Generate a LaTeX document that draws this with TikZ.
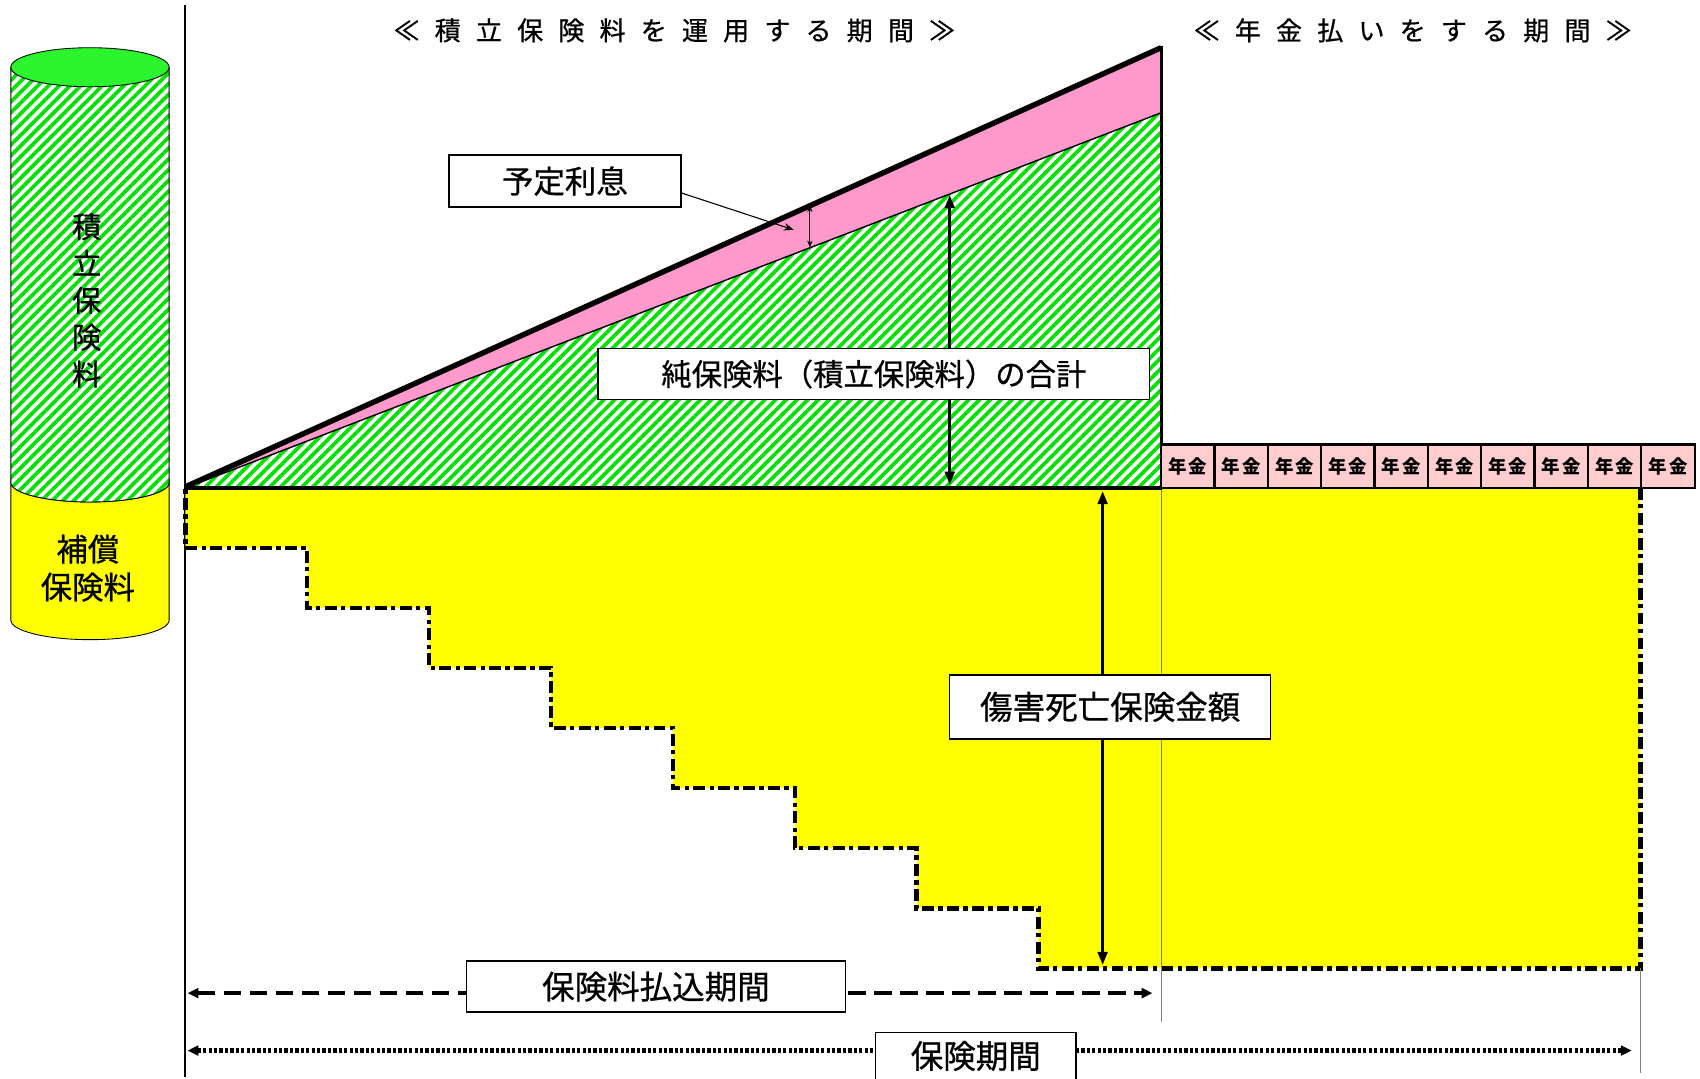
\documentclass[tikz,border=0pt]{standalone}
\usepackage{fontspec}
\setmainfont{Noto Sans CJK JP}
\newfontfamily\lblfont[FakeBold=0.7]{Noto Sans CJK JP}
\usetikzlibrary{arrows.meta,patterns.meta}
\definecolor{hatchgreen}{RGB}{0,225,0}
\definecolor{topgreen}{RGB}{45,245,45}
\definecolor{pinkfill}{RGB}{255,153,204}
\definecolor{nenkin}{RGB}{255,205,205}
\definecolor{yel}{RGB}{255,255,0}
\newcommand{\tsp}{\hspace{14pt}}
\begin{document}
\begin{tikzpicture}[x=1pt,y=-1pt,
  hatch/.style={preaction={fill=white},pattern={Lines[angle=45,distance=7pt,line width=3.4pt]},pattern color=hatchgreen},
  labelbox/.style={draw=black,line width=1.2pt,fill=white,inner sep=0pt,font=\lblfont\fontsize{29}{29}\selectfont},
  nenkinbox/.style={draw=black,line width=2pt,fill=nenkin,inner sep=0pt,minimum width=49.2pt,minimum height=40pt,font=\fontsize{17}{17}\selectfont\bfseries},
  titletext/.style={font=\lblfont\fontsize{24}{24}\selectfont,inner sep=0pt},
  bigarrow/.style={line width=2.5pt,{Triangle[length=12pt,width=9pt]}-{Triangle[length=12pt,width=9pt]}},
  stairline/.style={line width=4pt,dash pattern=on 11pt off 4pt on 4pt off 4pt},
  guide/.style={draw=gray,line width=1pt}
]
\path[use as bounding box] (0,0) rectangle (1568,995);

% axis
\coordinate (axT) at (171,5);
\coordinate (axB) at (171,993);
\draw[line width=2pt] (axT) -- (axB);

% cylinder
\fill[yel,draw=black,line width=0.8pt] (10,445) -- (10,572) arc[start angle=180,end angle=0,x radius=73,y radius=18] -- (156,445) arc[start angle=0,end angle=180,x radius=73,y radius=18] -- cycle;
\path[hatch,draw=black,line width=0.8pt] (10,62) -- (10,445) arc[start angle=180,end angle=0,x radius=73,y radius=18] -- (156,62) -- cycle;
\draw[fill=topgreen,line width=0.8pt] (83,62) ellipse[x radius=73,y radius=18];
\node[font=\lblfont\fontsize{27}{34}\selectfont,align=center,inner sep=0pt] (cylA) at (80,277) {積\\立\\保\\険\\料};
\node[font=\lblfont\fontsize{29}{35}\selectfont,align=center,inner sep=0pt] (cylB) at (81,524) {補償\\保険料};

% yellow area
\fill[yel] (171,450) -- (1513,450) -- (1513,893.2) -- (957.8,893.2) -- (957.8,837.8) -- (845.4,837.8) -- (845.4,782.4) -- (733,782.4) -- (733,727) -- (620.6,727) -- (620.6,671.6) -- (508.2,671.6) -- (508.2,616.2) -- (395.8,616.2) -- (395.8,560.8) -- (283.4,560.8) -- (283.4,505.4) -- (171,505.4) -- cycle;
\draw[stairline] (1513,450) -- (1513,893.2) -- (957.8,893.2) -- (957.8,837.8) -- (845.4,837.8) -- (845.4,782.4) -- (733,782.4) -- (733,727) -- (620.6,727) -- (620.6,671.6) -- (508.2,671.6) -- (508.2,616.2) -- (395.8,616.2) -- (395.8,560.8) -- (283.4,560.8) -- (283.4,505.4) -- (171,505.4) -- (171,450);

% guide lines
\coordinate (g1T) at (1071,450);
\coordinate (g1B) at (1071,943);
\coordinate (g2T) at (1513,893);
\coordinate (g2B) at (1513,990);
\draw[guide] (g1T) -- (g1B);
\draw[guide] (g2T) -- (g2B);

% triangle
\coordinate (O) at (171,450);
\coordinate (A) at (1071,44);
\coordinate (B) at (1071,104);
\coordinate (C) at (1071,450);
\fill[hatch] (O) -- (B) -- (C) -- cycle;
\fill[pinkfill] (O) -- (A) -- (B) -- cycle;
\draw[line width=1.3pt] (O) -- (B);
\draw[line width=3pt] (1071,42) -- (C);
\draw[line width=5pt] (171,449) -- (A);
\draw[line width=3pt] (O) -- (1072,450);

% annuity boxes
\foreach \i in {0,...,9}{
  \node[nenkinbox] (nk\i) at ({1071+49.2*\i+24.6},430) {年\hspace{2pt}金};
}

% interest label
\node[labelbox,minimum width=214pt,minimum height=48pt] (yotei) at (521,167) {予定利息};
\coordinate (ytip) at (732,212);
\draw[line width=1pt,-{Stealth[length=9pt,width=7pt]}] ([yshift=-11pt]yotei.east) -- (ytip);
\coordinate (rtop) at (747,189.5);
\coordinate (rbot) at (747,228);
\draw[line width=0.8pt,{Stealth[length=6pt,width=5pt]}-{Stealth[length=6pt,width=5pt]}] (rtop) -- (rbot);

% net premium arrow
\coordinate (npT) at (876,180);
\coordinate (npB) at (876,447);
\draw[bigarrow] (npT) -- (npB);
\node[labelbox,minimum width=509pt,minimum height=47pt,font=\lblfont\fontsize{28}{28}\selectfont] (jun) at (806,345) {純保険料（積立保険料）の合計};

% death benefit arrow
\coordinate (dbT) at (1017,453);
\coordinate (dbB) at (1017,890);
\draw[bigarrow] (dbT) -- (dbB);
\node[labelbox,minimum width=296pt,minimum height=59pt,font=\lblfont\fontsize{30}{30}\selectfont] (shogai) at (1024,652) {傷害死亡保険金額};

% premium payment period
\coordinate (pL) at (173,916);
\coordinate (pR) at (1063,916);
\draw[line width=3.5pt,dash pattern=on 16pt off 8pt,{Triangle[length=10pt,width=9pt]}-{Triangle[length=10pt,width=9pt]}] (pL) -- (pR);
\node[labelbox,minimum width=350pt,minimum height=47pt,font=\lblfont\fontsize{30}{30}\selectfont] (harai) at (605,910) {保険料払込期間};

% insurance period
\coordinate (kL) at (173,969);
\coordinate (kR) at (1505,969);
\draw[line width=4pt,dash pattern=on 3pt off 2pt,{Triangle[length=10pt,width=9pt]}-{Triangle[length=10pt,width=9pt]}] (kL) -- (kR);
\node[labelbox,minimum width=185pt,minimum height=44pt,font=\lblfont\fontsize{30}{30}\selectfont] (kikan) at (900,974) {保険期間};

% titles
\node[titletext] (t1) at (622,28) {≪\tsp 積\tsp 立\tsp 保\tsp 険\tsp 料\tsp を\tsp 運\tsp 用\tsp す\tsp る\tsp 期\tsp 間\tsp ≫};
\node[titletext] (t2) at (1303,28) {≪\tsp 年\tsp 金\tsp 払\tsp い\tsp を\tsp す\tsp る\tsp 期\tsp 間\tsp ≫};
\end{tikzpicture}
\end{document}
